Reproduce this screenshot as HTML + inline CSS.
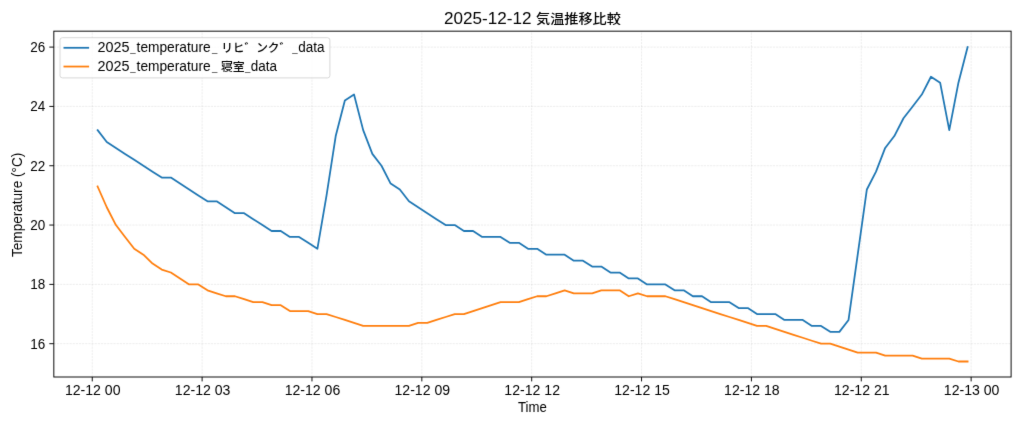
<!DOCTYPE html>
<html lang="ja"><head><meta charset="utf-8"><title>2025-12-12 気温推移比較</title>
<style>html,body{margin:0;padding:0;background:#fff}body{width:1024px;height:427px;overflow:hidden}svg{display:block}text{font-family:"Liberation Sans", "Noto Sans CJK JP", sans-serif;fill:#000}.l{font-size:14px}.j{font-size:11.85px;font-weight:500}.t{font-size:16px}.u{font-size:9.6px}.tj{font-size:12.8px;font-weight:500}</style></head><body>
<svg width="1024" height="427" viewBox="0 0 1024 427">
<rect x="0" y="0" width="1024" height="427" fill="#fff"/>
<defs><filter id="soft" x="0" y="0" width="1024" height="427" filterUnits="userSpaceOnUse" color-interpolation-filters="sRGB"><feConvolveMatrix order="3" kernelMatrix="0.0049 0.0700 0.0049 0.0700 0.7004 0.0700 0.0049 0.0700 0.0049" divisor="1" edgeMode="none" preserveAlpha="false"/></filter></defs>
<g filter="url(#soft)">
<g stroke="#999" stroke-opacity="0.3" stroke-width="0.6" stroke-dasharray="2.19 0.95" fill="none">
<line x1="92.25" y1="377.00" x2="92.25" y2="31.17"/>
<line x1="202.11" y1="377.00" x2="202.11" y2="31.17"/>
<line x1="311.97" y1="377.00" x2="311.97" y2="31.17"/>
<line x1="421.83" y1="377.00" x2="421.83" y2="31.17"/>
<line x1="531.69" y1="377.00" x2="531.69" y2="31.17"/>
<line x1="641.55" y1="377.00" x2="641.55" y2="31.17"/>
<line x1="751.41" y1="377.00" x2="751.41" y2="31.17"/>
<line x1="861.27" y1="377.00" x2="861.27" y2="31.17"/>
<line x1="971.13" y1="377.00" x2="971.13" y2="31.17"/>
<line x1="53.83" y1="343.70" x2="1011.10" y2="343.70"/>
<line x1="53.83" y1="284.38" x2="1011.10" y2="284.38"/>
<line x1="53.83" y1="225.06" x2="1011.10" y2="225.06"/>
<line x1="53.83" y1="165.74" x2="1011.10" y2="165.74"/>
<line x1="53.83" y1="106.42" x2="1011.10" y2="106.42"/>
<line x1="53.83" y1="47.10" x2="1011.10" y2="47.10"/>
</g>
<g fill="none" stroke-width="1.78" stroke-linejoin="round" stroke-linecap="square">
<polyline stroke="#1f77b4" points="97.60,130.15 106.76,142.01 115.92,147.94 125.07,153.88 134.23,159.81 143.39,165.74 152.55,171.67 161.71,177.60 170.86,177.60 180.02,183.54 189.18,189.47 198.34,195.40 207.49,201.33 216.65,201.33 225.81,207.26 234.97,213.20 244.13,213.20 253.28,219.13 262.44,225.06 271.60,230.99 280.76,230.99 289.92,236.92 299.07,236.92 308.23,242.86 317.39,248.79 326.55,195.40 335.71,136.08 344.86,100.49 354.02,94.56 363.18,130.15 372.34,153.88 381.49,165.74 390.65,183.54 399.81,189.47 408.97,201.33 418.13,207.26 427.28,213.20 436.44,219.13 445.60,225.06 454.76,225.06 463.92,230.99 473.07,230.99 482.23,236.92 491.39,236.92 500.55,236.92 509.71,242.86 518.86,242.86 528.02,248.79 537.18,248.79 546.34,254.72 555.49,254.72 564.65,254.72 573.81,260.65 582.97,260.65 592.13,266.58 601.28,266.58 610.44,272.52 619.60,272.52 628.76,278.45 637.92,278.45 647.07,284.38 656.23,284.38 665.39,284.38 674.55,290.31 683.71,290.31 692.86,296.24 702.02,296.24 711.18,302.18 720.34,302.18 729.49,302.18 738.65,308.11 747.81,308.11 756.97,314.04 766.13,314.04 775.28,314.04 784.44,319.97 793.60,319.97 802.76,319.97 811.92,325.90 821.07,325.90 830.23,331.84 839.39,331.84 848.55,319.97 857.71,254.72 866.86,189.47 876.02,171.67 885.18,147.94 894.34,136.08 903.49,118.28 912.65,106.42 921.81,94.56 930.97,76.76 940.13,82.69 949.28,130.15 958.44,82.69 967.60,47.10"/>
<polyline stroke="#ff7f0e" points="97.60,186.50 106.76,207.26 115.92,225.06 125.07,236.92 134.23,248.79 143.39,254.72 152.55,263.62 161.71,269.55 170.86,272.52 180.02,278.45 189.18,284.38 198.34,284.38 207.49,290.31 216.65,293.28 225.81,296.24 234.97,296.24 244.13,299.21 253.28,302.18 262.44,302.18 271.60,305.14 280.76,305.14 289.92,311.07 299.07,311.07 308.23,311.07 317.39,314.04 326.55,314.04 335.71,317.01 344.86,319.97 354.02,322.94 363.18,325.90 372.34,325.90 381.49,325.90 390.65,325.90 399.81,325.90 408.97,325.90 418.13,322.94 427.28,322.94 436.44,319.97 445.60,317.01 454.76,314.04 463.92,314.04 473.07,311.07 482.23,308.11 491.39,305.14 500.55,302.18 509.71,302.18 518.86,302.18 528.02,299.21 537.18,296.24 546.34,296.24 555.49,293.28 564.65,290.31 573.81,293.28 582.97,293.28 592.13,293.28 601.28,290.31 610.44,290.31 619.60,290.31 628.76,296.24 637.92,293.28 647.07,296.24 656.23,296.24 665.39,296.24 674.55,299.21 683.71,302.18 692.86,305.14 702.02,308.11 711.18,311.07 720.34,314.04 729.49,317.01 738.65,319.97 747.81,322.94 756.97,325.90 766.13,325.90 775.28,328.87 784.44,331.84 793.60,334.80 802.76,337.77 811.92,340.73 821.07,343.70 830.23,343.70 839.39,346.67 848.55,349.63 857.71,352.60 866.86,352.60 876.02,352.60 885.18,355.56 894.34,355.56 903.49,355.56 912.65,355.56 921.81,358.53 930.97,358.53 940.13,358.53 949.28,358.53 958.44,361.50 967.60,361.50"/>
</g>
<g stroke="#000" stroke-width="0.95" fill="none">
<line x1="92.25" y1="377.00" x2="92.25" y2="381.40"/>
<line x1="202.11" y1="377.00" x2="202.11" y2="381.40"/>
<line x1="311.97" y1="377.00" x2="311.97" y2="381.40"/>
<line x1="421.83" y1="377.00" x2="421.83" y2="381.40"/>
<line x1="531.69" y1="377.00" x2="531.69" y2="381.40"/>
<line x1="641.55" y1="377.00" x2="641.55" y2="381.40"/>
<line x1="751.41" y1="377.00" x2="751.41" y2="381.40"/>
<line x1="861.27" y1="377.00" x2="861.27" y2="381.40"/>
<line x1="971.13" y1="377.00" x2="971.13" y2="381.40"/>
<line x1="49.33" y1="343.70" x2="53.83" y2="343.70"/>
<line x1="49.33" y1="284.38" x2="53.83" y2="284.38"/>
<line x1="49.33" y1="225.06" x2="53.83" y2="225.06"/>
<line x1="49.33" y1="165.74" x2="53.83" y2="165.74"/>
<line x1="49.33" y1="106.42" x2="53.83" y2="106.42"/>
<line x1="49.33" y1="47.10" x2="53.83" y2="47.10"/>
<rect x="53.83" y="31.17" width="957.27" height="345.83"/>
</g>
<g class="l">
<text x="92.75" y="395.0" text-anchor="middle" textLength="55.6" lengthAdjust="spacingAndGlyphs">12-12 00</text>
<text x="202.61" y="395.0" text-anchor="middle" textLength="55.6" lengthAdjust="spacingAndGlyphs">12-12 03</text>
<text x="312.47" y="395.0" text-anchor="middle" textLength="55.6" lengthAdjust="spacingAndGlyphs">12-12 06</text>
<text x="422.33" y="395.0" text-anchor="middle" textLength="55.6" lengthAdjust="spacingAndGlyphs">12-12 09</text>
<text x="532.19" y="395.0" text-anchor="middle" textLength="55.6" lengthAdjust="spacingAndGlyphs">12-12 12</text>
<text x="642.05" y="395.0" text-anchor="middle" textLength="55.6" lengthAdjust="spacingAndGlyphs">12-12 15</text>
<text x="751.91" y="395.0" text-anchor="middle" textLength="55.6" lengthAdjust="spacingAndGlyphs">12-12 18</text>
<text x="861.77" y="395.0" text-anchor="middle" textLength="55.6" lengthAdjust="spacingAndGlyphs">12-12 21</text>
<text x="971.63" y="395.0" text-anchor="middle" textLength="55.6" lengthAdjust="spacingAndGlyphs">12-13 00</text>
<text x="45.2" y="348.55" text-anchor="end" textLength="15.0" lengthAdjust="spacingAndGlyphs">16</text>
<text x="45.2" y="289.23" text-anchor="end" textLength="15.0" lengthAdjust="spacingAndGlyphs">18</text>
<text x="45.2" y="229.91" text-anchor="end" textLength="15.0" lengthAdjust="spacingAndGlyphs">20</text>
<text x="45.2" y="170.59" text-anchor="end" textLength="15.0" lengthAdjust="spacingAndGlyphs">22</text>
<text x="45.2" y="111.27" text-anchor="end" textLength="15.0" lengthAdjust="spacingAndGlyphs">24</text>
<text x="45.2" y="51.95" text-anchor="end" textLength="15.0" lengthAdjust="spacingAndGlyphs">26</text>
<text x="532.4" y="411.5" text-anchor="middle" textLength="28.8" lengthAdjust="spacingAndGlyphs">Time</text>
<text transform="translate(21.9 204.9) rotate(-90)" text-anchor="middle" textLength="104.2" lengthAdjust="spacingAndGlyphs">Temperature (°C)</text>
</g>
<text y="23.8"><tspan class="t" x="444.0" textLength="92.15" lengthAdjust="spacingAndGlyphs">2025-12-12 </tspan><tspan class="tj" x="536.0" dy="-0.4" textLength="84.8" lengthAdjust="spacingAndGlyphs">気温推移比較</tspan></text>
<rect x="60" y="37.7" width="269.9" height="40.2" rx="2.4" ry="2.4" fill="#fff" fill-opacity="0.8" stroke="#ccc" stroke-opacity="0.8" stroke-width="0.95"/>
<line x1="63.5" y1="47.8" x2="89.1" y2="47.8" stroke="#1f77b4" stroke-width="1.78"/>
<line x1="63.5" y1="66.55" x2="89.1" y2="66.55" stroke="#ff7f0e" stroke-width="1.78"/>
<text><tspan class="l" x="97.4" y="52.30" textLength="32" lengthAdjust="spacingAndGlyphs">2025</tspan><tspan class="u" x="130.15" y="51.90">_</tspan><tspan class="l" x="136.6" y="52.30" textLength="74" lengthAdjust="spacingAndGlyphs">temperature</tspan><tspan class="u" x="212.00" y="51.90">_</tspan><tspan class="j" x="221.20" y="52.30" textLength="70.00" lengthAdjust="spacingAndGlyphs">リヒ゛ンク゛</tspan><tspan class="u" x="292.30" y="51.90">_</tspan><tspan class="l" x="298.30" y="52.30" textLength="26.2" lengthAdjust="spacingAndGlyphs">data</tspan></text>
<text><tspan class="l" x="97.4" y="70.90" textLength="32" lengthAdjust="spacingAndGlyphs">2025</tspan><tspan class="u" x="130.15" y="70.50">_</tspan><tspan class="l" x="136.6" y="70.90" textLength="74" lengthAdjust="spacingAndGlyphs">temperature</tspan><tspan class="u" x="212.00" y="70.50">_</tspan><tspan class="j" x="221.00" y="70.90" textLength="23.70" lengthAdjust="spacingAndGlyphs">寝室</tspan><tspan class="u" x="245.10" y="70.50">_</tspan><tspan class="l" x="250.80" y="70.90" textLength="26.2" lengthAdjust="spacingAndGlyphs">data</tspan></text>
</g>
</svg></body></html>
